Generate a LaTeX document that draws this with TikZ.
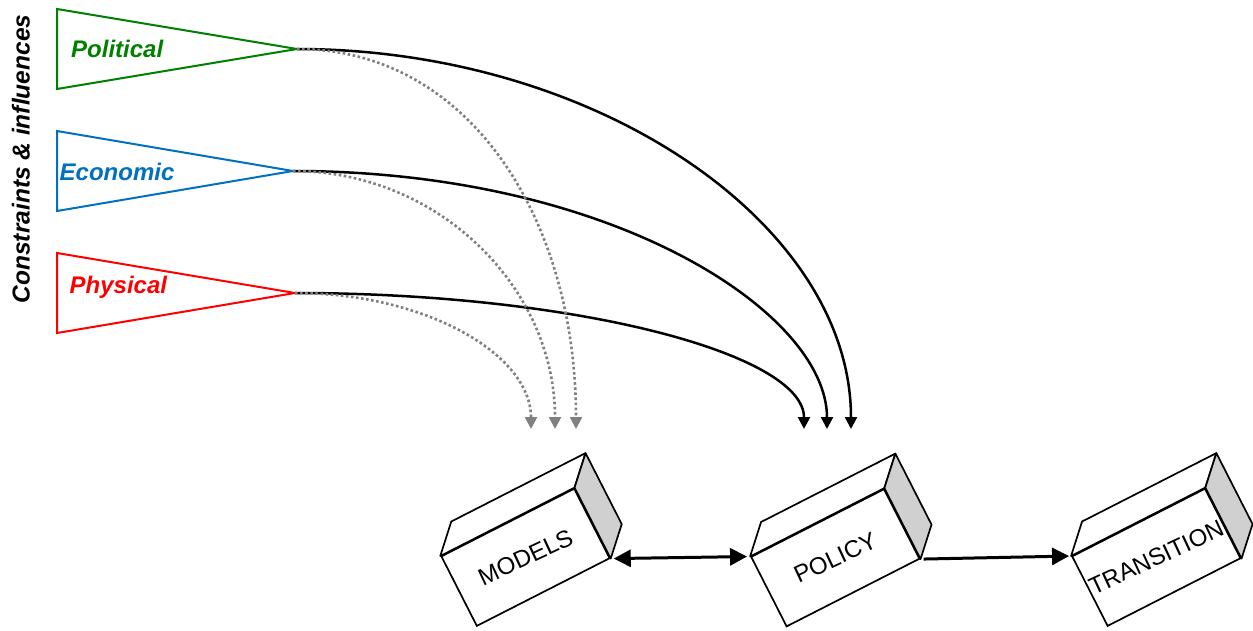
\documentclass[tikz,border=0pt]{standalone}
\usepackage{fontspec}
\setmainfont{Liberation Sans}
\usetikzlibrary{arrows.meta}

\definecolor{polgreen}{RGB}{0,128,0}
\definecolor{econblue}{RGB}{0,112,192}
\definecolor{physred}{RGB}{255,0,0}
\definecolor{sideshade}{RGB}{208,208,208}
\definecolor{dotgray}{RGB}{128,128,128}

\tikzset{
  face/.style={draw, line width=1.7pt, fill=white, minimum width=149pt,
    minimum height=78pt, rotate=27, inner sep=0pt,
    font=\fontsize{24}{27}\selectfont},
  edge/.style={line width=1.7pt, line join=round},
  pennant/.style={line width=2pt, fill=white, line join=miter},
  tag/.style={font=\fontsize{24}{28}\selectfont\bfseries\itshape,
    anchor=base west, inner sep=0pt},
  influence/.style={line width=2.5pt, -{Triangle[length=12pt,width=12pt]}},
  hint/.style={line width=2.6pt, dotgray, dash pattern=on 2.6pt off 2.5pt,
    -{Triangle[length=12pt,width=12pt]}},
  flow/.style={line width=3pt},
  bighead/.tip={Triangle[length=17pt,width=17pt]},
}

% a 3-D crate: front face as a rotated node, then top and side faces
\newcommand\crate[4]{%
  \node[face] (#1) at (#2,#3) {\rotatebox{-2}{#4}};
  \draw[edge, fill=white] (#1.north west) -- ([shift={(11,-34.5)}]#1.north west)
    -- ([shift={(11,-34.5)}]#1.north east) -- (#1.north east) -- cycle;
  \draw[edge, fill=sideshade] (#1.north east) -- ([shift={(11,-34.5)}]#1.north east)
    -- ([shift={(11,-34.5)}]#1.south east) -- (#1.south east) -- cycle;
}

\begin{document}
\begin{tikzpicture}[x=1pt,y=-1pt]
\useasboundingbox (0,0) rectangle (1253,630);

% side caption
\node[rotate=90, anchor=base, inner sep=0pt,
  font=\fontsize{24.5}{28}\selectfont\bfseries\itshape] (axis) at (29.5,159)
  {Constraints \& influences};

% pennants
\coordinate (polTip) at (297,49);
\coordinate (econTip) at (293,171);
\coordinate (physTip) at (295,293);
\draw[pennant, draw=polgreen] (57,9) -- (polTip) -- (57,89) -- cycle;
\draw[pennant, draw=econblue] (57,131) -- (econTip) -- (57,211) -- cycle;
\draw[pennant, draw=physred] (57,253) -- (physTip) -- (57,333) -- cycle;
\node[tag, text=polgreen] (pol) at (71,57.3) {Political};
\node[tag, text=econblue] (econ) at (59.5,180) {Economic};
\node[tag, text=physred] (phys) at (69.5,293) {Physical};

% crates
\crate{models}{525.5}{557.3}{MODELS}
\crate{policy}{835.3}{557.8}{POLICY}
\crate{transition}{1156.3}{557.3}{TRANSITION}

% arrow ends above the crates
\coordinate (polIn) at (851,429);
\coordinate (econIn) at (827,429);
\coordinate (physIn) at (804,429);
\coordinate (polHint) at (576,429);
\coordinate (econHint) at (555,429);
\coordinate (physHint) at (531,429);

% influences on policy
\draw[influence] (polTip) .. controls +(300,0) and +(0,-205) .. (polIn);
\draw[influence] (econTip) .. controls +(320,0) and +(0,-116) .. (econIn);
\draw[influence] (physTip) .. controls +(281,0) and +(0,-75) .. (physIn);

% influences on models
\draw[hint] (polTip) .. controls +(173,0) and +(0,-209) .. (polHint);
\draw[hint] (econTip) .. controls +(145,0) and +(0,-142) .. (econHint);
\draw[hint] (physTip) .. controls +(130,0) and +(0,-75) .. (physHint);

% links between crates
\draw[flow, bighead-bighead, shorten <=3pt, shorten >=3pt]
  (models.south east) -- (policy.north west);
\draw[flow, -bighead, shorten <=3pt, shorten >=2pt]
  (policy.south east) -- (transition.north west);
\end{tikzpicture}
\end{document}
